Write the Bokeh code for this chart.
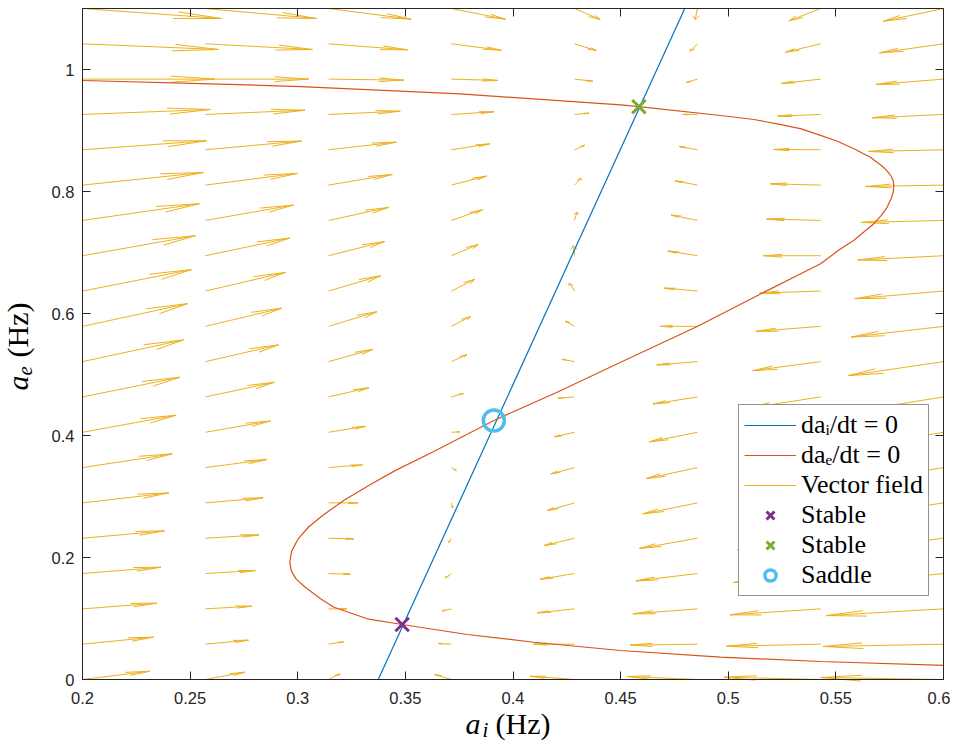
import numpy as np
from bokeh.plotting import figure
from bokeh.models import Range1d, LinearAxis, FixedTicker, Label, Legend, LegendItem
from bokeh.embed import file_html
from bokeh.resources import INLINE

# ---------------- data ----------------
ai_grid = [0.2, 0.2571, 0.3143, 0.3714, 0.4286, 0.4857, 0.5429, 0.6]
ae_grid = [0.0, 0.0579, 0.1158, 0.1737, 0.2316, 0.2895, 0.3474, 0.4053, 0.4632, 0.5211,
           0.5789, 0.6368, 0.6947, 0.7526, 0.8105, 0.8684, 0.9263, 0.9842, 1.0421, 1.1]

# drawn arrow components, one list per a_i column, bottom -> top
arrow_u = [
    [0.0313, 0.0330, 0.0345, 0.0364, 0.0381, 0.0401, 0.0417, 0.0435, 0.0452, 0.0469,
     0.0488, 0.0506, 0.0525, 0.0544, 0.0562, 0.0576, 0.0595, 0.0613, 0.0632, 0.0646],
    [0.0183, 0.0200, 0.0215, 0.0232, 0.0249, 0.0268, 0.0285, 0.0302, 0.0321, 0.0339,
     0.0356, 0.0373, 0.0392, 0.0409, 0.0427, 0.0446, 0.0463, 0.0480, 0.0497, 0.0516],
    [0.0054, 0.0070, 0.0085, 0.0102, 0.0118, 0.0137, 0.0157, 0.0172, 0.0188, 0.0206,
     0.0225, 0.0243, 0.0262, 0.0279, 0.0296, 0.0315, 0.0333, 0.0350, 0.0367, 0.0384],
    [-0.0078, -0.0062, -0.0043, -0.0028, -0.0013, 0.0005, 0.0023, 0.0039, 0.0056, 0.0072,
     0.0090, 0.0107, 0.0125, 0.0144, 0.0163, 0.0179, 0.0198, 0.0215, 0.0232, 0.0251],
    [-0.0206, -0.0190, -0.0173, -0.0159, -0.0142, -0.0127, -0.0110, -0.0094, -0.0078, -0.0059,
     -0.0042, -0.0025, -0.0005, 0.0011, 0.0031, 0.0048, 0.0067, 0.0084, 0.0101, 0.0119],
    [-0.0328, -0.0313, -0.0300, -0.0286, -0.0271, -0.0254, -0.0238, -0.0223, -0.0206, -0.0189,
     -0.0173, -0.0156, -0.0138, -0.0122, -0.0104, -0.0085, -0.0068, -0.0051, -0.0034, -0.0011],
    [-0.0449, -0.0437, -0.0421, -0.0406, -0.0387, -0.0374, -0.0360, -0.0346, -0.0331, -0.0316,
     -0.0301, -0.0283, -0.0266, -0.0251, -0.0234, -0.0218, -0.0200, -0.0181, -0.0163, -0.0147],
    [-0.0571, -0.0560, -0.0545, -0.0539, -0.0523, -0.0506, -0.0492, -0.0476, -0.0460, -0.0444,
     -0.0429, -0.0413, -0.0398, -0.0382, -0.0364, -0.0348, -0.0331, -0.0314, -0.0297, -0.0279],
]
arrow_v = [
    [0.0136, 0.0115, 0.0093, 0.0103, 0.0120, 0.0164, 0.0225, 0.0279, 0.0323, 0.0356,
     0.0372, 0.0351, 0.0328, 0.0274, 0.0207, 0.0148, 0.0082, 0.0, -0.0093, -0.0164],
    [0.0120, 0.0066, 0.0044, 0.0049, 0.0054, 0.0082, 0.0131, 0.0185, 0.0241, 0.0274,
     0.0300, 0.0307, 0.0290, 0.0251, 0.0192, 0.0143, 0.0070, 0.0, -0.0093, -0.0164],
    [0.0093, 0.0039, 0.0, -0.0011, -0.0011, 0.0, 0.0044, 0.0098, 0.0152, 0.0202,
     0.0241, 0.0252, 0.0234, 0.0213, 0.0174, 0.0125, 0.0054, -0.0016, -0.0098, -0.0175],
    [0.0082, 0.0011, -0.0033, -0.0066, -0.0070, -0.0082, -0.0049, 0.0007, 0.0059, 0.0115,
     0.0164, 0.0192, 0.0185, 0.0175, 0.0148, 0.0098, 0.0044, -0.0021, -0.0105, -0.0175],
    [0.0054, 0.0, -0.0066, -0.0093, -0.0120, -0.0126, -0.0103, -0.0075, -0.0021, 0.0038,
     0.0087, 0.0131, 0.0164, 0.0138, 0.0115, 0.0075, 0.0021, -0.0033, -0.0110, -0.0180],
    [0.0049, -0.0016, -0.0082, -0.0121, -0.0169, -0.0180, -0.0180, -0.0157, -0.0115, -0.0054,
     0.0, 0.0049, 0.0077, 0.0089, 0.0070, 0.0054, 0.0, -0.0054, -0.0121, -0.0180],
    [0.0038, -0.0033, -0.0098, -0.0148, -0.0190, -0.0205, -0.0213, -0.0205, -0.0180, -0.0148,
     -0.0082, -0.0033, 0.0, 0.0023, 0.0021, 0.0005, -0.0028, -0.0070, -0.0138, -0.0203],
    [0.0033, -0.0038, -0.0110, -0.0189, -0.0238, -0.0270, -0.0287, -0.0287, -0.0262, -0.0230,
     -0.0175, -0.0125, -0.0070, -0.0033, -0.0023, -0.0028, -0.0054, -0.0087, -0.0148, -0.0208],
]

# da_i/dt = 0 nullcline (straight line)
null_i_ae = [0.0, 1.1]
null_i_ai = [0.3374, 0.4798]

# da_e/dt = 0 nullcline (S-shaped curve)
null_e_ai = [0.2, 0.2553, 0.3013, 0.3756, 0.45, 0.4585, 0.4964, 0.5120, 0.5227, 0.5335,
             0.5429, 0.5510, 0.5584, 0.5660, 0.5710, 0.5735, 0.5757, 0.5766, 0.5769, 0.5767,
             0.5759, 0.5738, 0.5709, 0.5676, 0.5584, 0.5514, 0.5429, 0.5150, 0.4856, 0.4500,
             0.4205, 0.3911, 0.3632, 0.3450, 0.3330, 0.3215, 0.3120, 0.3050, 0.3001, 0.2971,
             0.2963, 0.2970, 0.2992, 0.3032, 0.3106, 0.3168, 0.3323, 0.3485, 0.3787, 0.4097,
             0.4500, 0.4964, 0.5429, 0.6]
null_e_ae = [0.982, 0.977, 0.972, 0.960, 0.942, 0.939, 0.9246, 0.918, 0.911, 0.903,
             0.892, 0.882, 0.870, 0.856, 0.843, 0.835, 0.825, 0.818, 0.810, 0.800,
             0.790, 0.774, 0.760, 0.747, 0.720, 0.704, 0.6815, 0.632, 0.5787, 0.520,
             0.471, 0.4246, 0.3738, 0.342, 0.318, 0.294, 0.270, 0.250, 0.230, 0.210,
             0.192, 0.178, 0.165, 0.152, 0.1323, 0.1185, 0.0995, 0.0902, 0.0738, 0.0611,
             0.0475, 0.0366, 0.0295, 0.023]

# fixed points
stable1_ai, stable1_ae = [0.3485], [0.0902]
stable2_ai, stable2_ae = [0.4585], [0.939]
saddle_ai, saddle_ae = [0.3911], [0.4246]

x_ticks = [0.2, 0.25, 0.3, 0.35, 0.4, 0.45, 0.5, 0.55, 0.6]
x_tick_labels = ["0.2", "0.25", "0.3", "0.35", "0.4", "0.45", "0.5", "0.55", "0.6"]
y_ticks = [0, 0.2, 0.4, 0.6, 0.8, 1.0]
y_tick_labels = ["0", "0.2", "0.4", "0.6", "0.8", "1"]
x_lim = (0.2, 0.6)
y_lim = (0.0, 1.1)

legend_labels = ["da\u1d62/dt = 0", "da\u2091/dt = 0", "Vector field", "Stable", "Stable", "Saddle"]

# ---------------- layout: frame = whole canvas, axes fixed at the data box ----------------
W, H = 950, 742
BOX_L, BOX_R, BOX_T, BOX_B = 82, 943, 8, 679      # pixel box of the axes
sx = (BOX_R - BOX_L) / (x_lim[1] - x_lim[0])
sy = (BOX_B - BOX_T) / (y_lim[1] - y_lim[0])
xr = Range1d(x_lim[0] - BOX_L / sx, x_lim[1] + (W - BOX_R) / sx)
yr = Range1d(y_lim[0] - (H - BOX_B) / sy, y_lim[1] + BOX_T / sy)

def px2x(px):
    return x_lim[0] + (px - BOX_L) / sx

def px2y(py):
    return y_lim[0] + (BOX_B - py) / sy

AX = "#262626"
p = figure(width=W, height=H, x_range=xr, y_range=yr, title=None,
           x_axis_location=None, y_axis_location=None,
           output_backend="svg", toolbar_location=None,
           min_border=0, min_border_left=0, min_border_right=0,
           min_border_top=0, min_border_bottom=0)
p.background_fill_color = "white"
p.border_fill_color = "white"
p.outline_line_color = None
p.grid.visible = False

def make_axis(ticks, labels, loc, bounds, show_labels):
    ax = LinearAxis(ticker=FixedTicker(ticks=ticks), fixed_location=loc, bounds=bounds)
    ax.major_tick_in = 8
    ax.major_tick_out = 0
    ax.minor_tick_line_color = None
    ax.axis_line_color = AX
    ax.axis_line_width = 1
    ax.major_tick_line_color = AX
    ax.major_label_text_font = "Liberation Sans"
    ax.major_label_text_font_size = "16.5px"
    ax.major_label_text_color = AX if show_labels else None
    if show_labels:
        ax.major_label_overrides = {t: l for t, l in zip(ticks, labels)}
    return ax

ax_b = make_axis(x_ticks, x_tick_labels, y_lim[0], x_lim, True)
ax_b.major_label_standoff = 12
ax_l = make_axis(y_ticks, y_tick_labels, x_lim[0], y_lim, True)
ax_l.major_label_standoff = 8
ax_t = make_axis(x_ticks, x_tick_labels, y_lim[1], x_lim, False)
ax_r = make_axis(y_ticks, y_tick_labels, x_lim[1], y_lim, False)
p.add_layout(ax_b, "below")
p.add_layout(ax_l, "left")
p.add_layout(ax_t, "above")
p.add_layout(ax_r, "right")

# ---------------- vector field (MATLAB quiver style heads) ----------------
X, Y = np.meshgrid(np.array(ai_grid), np.array(ae_grid))
U = np.array(arrow_u).T
V = np.array(arrow_v).T
x0, y0, u, v = X.ravel(), Y.ravel(), U.ravel(), V.ravel()
tx, ty = x0 + u, y0 + v
alpha, beta = 0.33, 0.25
b1x = tx - alpha * (u + beta * v)
b1y = ty - alpha * (v - beta * u)
b2x = tx - alpha * (u - beta * v)
b2y = ty - alpha * (v + beta * u)
seg_x0 = np.concatenate([x0, tx, tx])
seg_y0 = np.concatenate([y0, ty, ty])
seg_x1 = np.concatenate([tx, b1x, b2x])
seg_y1 = np.concatenate([ty, b1y, b2y])
r_vec = p.segment(seg_x0, seg_y0, seg_x1, seg_y1, line_color="#EDB120", line_width=1)

# ---------------- nullclines ----------------
r_blue = p.line(null_i_ai, null_i_ae, line_color="#0072BD", line_width=1.2)
r_red = p.line(null_e_ai, null_e_ae, line_color="#D95319", line_width=1.2)

# ---------------- fixed points ----------------
r_s1 = p.scatter(stable1_ai, stable1_ae, marker="x", size=19, line_color="#7E2F8E", line_width=3)
r_s2 = p.scatter(stable2_ai, stable2_ae, marker="x", size=19, line_color="#77AC30", line_width=3)
r_sd = p.scatter(saddle_ai, saddle_ae, marker="circle", size=21, fill_color=None,
                 line_color="#4DBEEE", line_width=3.5)

# ---------------- legend ----------------
legend = Legend(items=[LegendItem(label=t, renderers=[r]) for t, r in
                       zip(legend_labels, [r_blue, r_red, r_vec, r_s1, r_s2, r_sd])],
                location=(738, H - 596), margin=0, padding=5, spacing=-1,
                glyph_width=52, glyph_height=28, label_height=28, label_standoff=5,
                label_text_font="Liberation Serif", label_text_font_size="26px",
                label_text_color="black",
                border_line_color=AX, border_line_width=1,
                background_fill_color="white", background_fill_alpha=1.0)
p.add_layout(legend)

# ---------------- axis labels (LaTeX-like) ----------------
SERIF = "Liberation Serif"
def lab(text, px, py, size, style="normal", angle=0.0):
    p.add_layout(Label(x=px2x(px), y=px2y(py), text=text,
                       text_font=SERIF, text_font_size=size, text_font_style=style,
                       text_color="black", text_align="left", text_baseline="alphabetic",
                       angle=angle))

lab("a", 465, 722.5, "30px", "italic")
lab("i", 482, 729.5, "21px", "italic")
lab("(Hz)", 495, 722.5, "30px")

lab("a", 17, 390, "30px", "italic", np.pi / 2)
lab("e", 24.5, 375, "21px", "italic", np.pi / 2)
lab("(Hz)", 17, 357, "30px", "normal", np.pi / 2)

open("out.html", "w").write(file_html(p, INLINE))
